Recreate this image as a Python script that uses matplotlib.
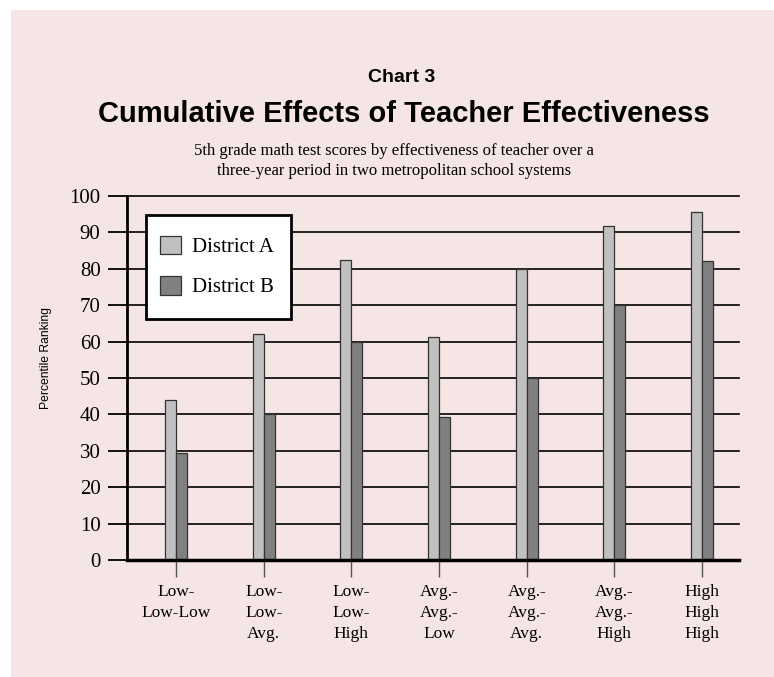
import matplotlib.pyplot as plt
import numpy as np
from matplotlib.patches import Rectangle

# data
categories = ['Low-\nLow-Low', 'Low-\nLow-\nAvg.', 'Low-\nLow-\nHigh', 'Avg.-\nAvg.-\nLow',
              'Avg.-\nAvg.-\nAvg.', 'Avg.-\nAvg.-\nHigh', 'High\nHigh\nHigh']
district_a = [44, 62, 82.3, 61.3, 80, 91.7, 95.7]
district_b = [29.3, 40, 60, 39.3, 50, 70, 82.1]
y_ticks = [0, 10, 20, 30, 40, 50, 60, 70, 80, 90, 100]

pink = '#f5e5e5'
serif = 'Liberation Serif'
sans = 'Liberation Sans'

fig = plt.figure(figsize=(7.74, 6.77), dpi=100)
fig.patch.set_facecolor('white')
fig.patches.append(Rectangle((11 / 774, 0), 1, 1 - 10 / 677, transform=fig.transFigure,
                             facecolor=pink, edgecolor='none', zorder=-5))

ax = fig.add_axes([127 / 774, 117 / 677, 612 / 774, 364 / 677])
ax.set_facecolor('none')

x = np.arange(len(categories))
w = 0.125
ax.bar(x, district_a, width=-w, align='edge', color='#c0c0c0', edgecolor='#333333',
       linewidth=0.9, label='District A', zorder=3)
ax.bar(x, district_b, width=w, align='edge', color='#808080', edgecolor='#333333',
       linewidth=0.9, label='District B', zorder=3)

ax.set_xlim(-0.561, 6.422)
ax.set_ylim(0, 100)
ax.set_yticks(y_ticks)
ax.set_yticklabels([str(v) for v in y_ticks], fontfamily=serif, fontsize=15)
ax.yaxis.grid(True, color='black', linewidth=1.2)
for gl in ax.yaxis.get_gridlines():
    gl.set_clip_on(False)
ax.set_axisbelow(True)
ax.tick_params(axis='y', length=14, width=1.3, color='black', pad=5)

ax.set_xticks(x)
ax.set_xticklabels(categories, fontfamily=serif, fontsize=12.5, linespacing=1.45, va='top')
ax.tick_params(axis='x', length=12, width=1, color='#555555', pad=5)

for s in ['top', 'right']:
    ax.spines[s].set_visible(False)
ax.spines['left'].set_linewidth(2)
ax.spines['bottom'].set_linewidth(2.5)
ax.spines['bottom'].set_zorder(4)

ax.set_ylabel('Percentile Ranking', fontfamily=sans, fontsize=8.7)
ax.yaxis.set_label_coords(-0.123, 0.555)

# legend: white box with a heavy black border, entries placed inside it
ax.add_patch(Rectangle((0.031, 0.662), 0.237, 0.286, transform=ax.transAxes,
                       facecolor='white', edgecolor='black', linewidth=2, zorder=5,
                       clip_on=False))
leg = ax.legend(loc='center left', bbox_to_anchor=(0.054, 0.806), borderaxespad=0,
                prop={'family': serif, 'size': 15}, frameon=False,
                handlelength=1.0, handleheight=1.0, borderpad=0,
                handletextpad=0.55, labelspacing=0.9)
leg.set_zorder(6)

fig.text(402 / 774, 1 - 78 / 677, 'Chart 3', ha='center', va='center',
         fontfamily=sans, fontweight='bold', fontsize=14)
fig.text(404 / 774, 1 - 114 / 677, 'Cumulative Effects of Teacher Effectiveness', ha='center',
         va='center', fontfamily=sans, fontweight='bold', fontsize=21)
fig.text(394 / 774, 1 - 161 / 677,
         '5th grade math test scores by effectiveness of teacher over a\n'
         'three-year period in two metropolitan school systems',
         ha='center', va='center', fontfamily=serif, fontsize=12, linespacing=1.3)

fig.savefig('out.png', dpi=100, facecolor=fig.get_facecolor())
